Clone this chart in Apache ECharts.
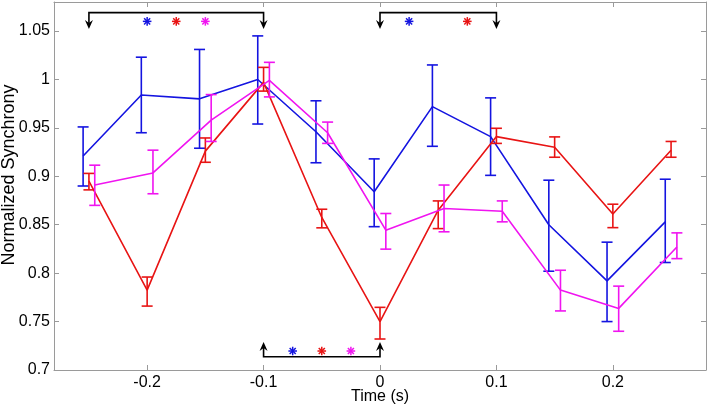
<!DOCTYPE html>
<html><head><meta charset="utf-8">
<script src="https://cdn.jsdelivr.net/npm/echarts@6/dist/echarts.min.js"></script>
<style>html,body{margin:0;padding:0;background:#fff}#c{width:708px;height:408px}</style>
</head><body><div id="c"></div>
<script>
// ---- data ----
const times = [-0.25,-0.2,-0.15,-0.1,-0.05,0,0.05,0.1,0.15,0.2,0.25];
const blueMean = [0.921,0.984,0.980,1.000,0.946,0.884,0.972,0.941,0.850,0.792,0.853];
const blueHigh = [0.951,1.023,1.031,1.045,0.978,0.918,1.015,0.981,0.896,0.832,0.897];
const blueLow  = [0.890,0.945,0.929,0.954,0.914,0.848,0.931,0.901,0.802,0.750,0.811];
const redMean  = [0.895,0.7825,0.926,0.997,0.8575,0.750,0.865,0.941,0.930,0.861,0.927];
const redHigh  = [0.903,0.796,0.9396,1.0125,0.866,0.7647,0.8746,0.9496,0.9407,0.8712,0.936];
const redLow   = [0.886,0.766,0.9145,0.988,0.8468,0.732,0.846,0.934,0.9197,0.847,0.9197];
const magMean  = [0.891,0.9035,0.958,0.999,0.945,0.8444,0.8668,0.864,0.7825,0.7636,0.827];
const magHigh  = [0.9115,0.927,0.9844,1.0177,0.956,0.8616,0.891,0.8746,0.803,0.7866,0.8416];
const magLow   = [0.870,0.882,0.936,0.982,0.934,0.8248,0.8427,0.853,0.761,0.740,0.815];
const xTicks = [-0.2,-0.1,0,0.1,0.2];
const yTicks = [0.7,0.75,0.8,0.85,0.9,0.95,1,1.05];
// significance brackets: [x1, x2, yLine, yTip]
const brackets = [[-0.25,-0.1,1.069,1.052],[0,0.1,1.069,1.052],[-0.1,0,0.7137,0.729]];
// asterisks: [x, y, series index 0=blue 1=red 2=magenta]
const stars = [[-0.2,1.06,0],[-0.175,1.06,1],[-0.15,1.06,2],[0.025,1.06,0],[0.075,1.06,1],
               [-0.075,0.7196,0],[-0.05,0.7196,1],[-0.025,0.7196,2]];

// ---- style ----
const colors = ['#1414e0','#e81414','#f014f0'];
const offsets = [-0.005, 0, 0.005];
const series = [];
[[blueMean,blueLow,blueHigh],[redMean,redLow,redHigh],[magMean,magLow,magHigh]].forEach((s,k)=>{
  const [m,lo,hi] = s;
  const off = offsets[k];
  series.push({type:'line', data: times.map((t,i)=>[t+off,m[i]]), showSymbol:false, symbol:'none',
    lineStyle:{color:colors[k],width:1.6}, itemStyle:{color:colors[k]}, z:2+k, animation:false});
  series.push({type:'custom', data: times.map((t,i)=>[t+off,lo[i],hi[i]]), z:2+k, animation:false,
    renderItem:(p,api)=>{
      const x = api.value(0);
      const a = api.coord([x, api.value(2)]);
      const b = api.coord([x, api.value(1)]);
      const w = 5.5;
      const st = {stroke:colors[k], lineWidth:1.6, fill:null};
      return {type:'group', children:[
        {type:'line', shape:{x1:a[0],y1:a[1],x2:b[0],y2:b[1]}, style:st},
        {type:'line', shape:{x1:a[0]-w,y1:a[1],x2:a[0]+w,y2:a[1]}, style:st},
        {type:'line', shape:{x1:b[0]-w,y1:b[1],x2:b[0]+w,y2:b[1]}, style:st}
      ]};
    }});
});
series.push({type:'custom', data: brackets, z:6, animation:false,
  renderItem:(p,api)=>{
    const x1=api.value(0), x2=api.value(1), yl=api.value(2), yt=api.value(3);
    const p1=api.coord([x1,yt]), p2=api.coord([x1,yl]), p3=api.coord([x2,yl]), p4=api.coord([x2,yt]);
    const dir = p1[1] > p2[1] ? 1 : -1; // 1 means tip below line
    const st = {stroke:'#000', lineWidth:1.6, fill:null};
    const head = (pt)=>({type:'polygon', shape:{points:[[pt[0],pt[1]],[pt[0]-4,pt[1]-dir*9],[pt[0],pt[1]-dir*6],[pt[0]+4,pt[1]-dir*9]]}, style:{fill:'#000'}});
    return {type:'group', children:[
      {type:'polyline', shape:{points:[[p1[0],p1[1]-dir*5],p2,p3,[p4[0],p4[1]-dir*5]]}, style:st},
      head(p1), head(p4)
    ]};
  }});
series.push({type:'custom', data: stars, z:6, animation:false,
  renderItem:(p,api)=>{
    const c = api.coord([api.value(0), api.value(1)]);
    const col = colors[api.value(2)];
    const r = 4.3, d = r*0.7071;
    const st = {stroke:col, lineWidth:1.5};
    return {type:'group', children:[
      {type:'line', shape:{x1:c[0]-r,y1:c[1],x2:c[0]+r,y2:c[1]}, style:st},
      {type:'line', shape:{x1:c[0],y1:c[1]-r,x2:c[0],y2:c[1]+r}, style:st},
      {type:'line', shape:{x1:c[0]-d,y1:c[1]-d,x2:c[0]+d,y2:c[1]+d}, style:st},
      {type:'line', shape:{x1:c[0]-d,y1:c[1]+d,x2:c[0]+d,y2:c[1]-d}, style:st}
    ]};
  }});

const axisColor = '#9a9a9a';
const font = 'Liberation Sans, Arial, sans-serif';
const chart = echarts.init(document.getElementById('c'), null, {renderer:'canvas'});
chart.setOption({
  animation:false,
  backgroundColor:'#fff',
  grid:{left:54, right:2, top:2, bottom:38, containLabel:false, outerBoundsMode:'none'},
  graphic:[{type:'text', x:9, y:175, rotation:Math.PI/2,
    style:{text:'Normalized Synchrony', fill:'#000', fontSize:18, fontFamily:font, align:'center', verticalAlign:'middle'}},
    {type:'text', x:380, y:397, style:{text:'Time (s)', fill:'#000', fontSize:16, fontFamily:font, align:'center', verticalAlign:'middle'}}],
  xAxis:[{type:'value', min:-0.28, max:0.28, position:'bottom',
      axisLine:{show:true, onZero:false, lineStyle:{color:axisColor, width:1}},
      axisTick:{show:true, inside:true, length:5, customValues:xTicks, lineStyle:{color:axisColor}},
      axisLabel:{customValues:xTicks, color:'#000', fontSize:16, fontFamily:font, margin:5,
        formatter:v=>String(Math.round(v*10)/10)},
      splitLine:{show:false}},
    {type:'value', min:-0.28, max:0.28, position:'top',
      axisLine:{show:true, onZero:false, lineStyle:{color:axisColor, width:1}},
      axisTick:{show:true, inside:true, length:5, customValues:xTicks, lineStyle:{color:axisColor}},
      axisLabel:{show:false}, splitLine:{show:false}}],
  yAxis:[{type:'value', min:0.7, max:1.08, position:'left',
      axisLine:{show:true, onZero:false, lineStyle:{color:axisColor, width:1}},
      axisTick:{show:true, inside:true, length:5, customValues:yTicks, lineStyle:{color:axisColor}},
      axisLabel:{customValues:yTicks, color:'#000', fontSize:16, fontFamily:font, margin:4,
        formatter:v=>String(Math.round(v*100)/100)},
      splitLine:{show:false}},
    {type:'value', min:0.7, max:1.08, position:'right',
      axisLine:{show:true, onZero:false, lineStyle:{color:axisColor, width:1}},
      axisTick:{show:true, inside:true, length:5, customValues:yTicks, lineStyle:{color:axisColor}},
      axisLabel:{show:false}, splitLine:{show:false}}],
  series: series
});
</script></body></html>
